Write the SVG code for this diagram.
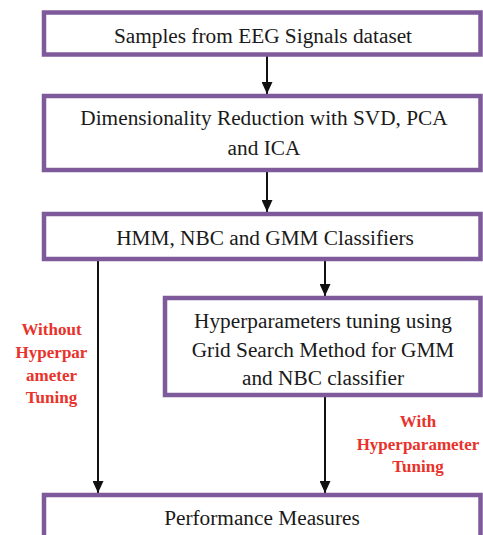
<svg xmlns="http://www.w3.org/2000/svg" width="483" height="535" viewBox="0 0 483 535">
<style>
.box{fill:#fff;stroke:#7E5A9B;stroke-width:4.5}
.t{font-family:"Liberation Serif","Times New Roman",serif;font-size:21.3px;fill:#1a1a1a;text-anchor:middle}
.r{font-family:"Liberation Serif","Times New Roman",serif;font-size:17px;font-weight:bold;fill:#E8322B;text-anchor:middle}
.c{stroke:#111;stroke-width:2;fill:none}
</style>
<defs>
<marker id="ah" markerWidth="12" markerHeight="11" refX="12" refY="5.5" orient="auto" markerUnits="userSpaceOnUse">
<path d="M0,0 L12,5.5 L0,11 Z" fill="#111"/>
</marker>
</defs>
<rect width="483" height="535" fill="#fff"/>
<g id="connectors">
<line class="c" x1="267" y1="55" x2="267" y2="94" marker-end="url(#ah)"/>
<line class="c" x1="267" y1="171" x2="267" y2="212" marker-end="url(#ah)"/>
<line class="c" x1="98" y1="261" x2="98" y2="493" marker-end="url(#ah)"/>
<line class="c" x1="325" y1="261" x2="325" y2="296" marker-end="url(#ah)"/>
<line class="c" x1="325" y1="397" x2="325" y2="493" marker-end="url(#ah)"/>
</g>
<g id="n1">
<rect class="box" x="44" y="12.5" width="436.5" height="42"/>
<text class="t" x="263" y="43">Samples from EEG Signals dataset</text>
</g>
<g id="n2">
<rect class="box" x="44" y="96" width="436.5" height="74"/>
<text class="t" x="264" y="125">Dimensionality Reduction with SVD, PCA</text>
<text class="t" x="264" y="155">and ICA</text>
</g>
<g id="n3">
<rect class="box" x="44" y="214" width="436.5" height="45"/>
<text class="t" x="265" y="245">HMM, NBC and GMM Classifiers</text>
</g>
<g id="n4">
<rect class="box" x="165" y="298" width="315.5" height="97"/>
<text class="t" x="323" y="328">Hyperparameters tuning using</text>
<text class="t" x="323" y="357">Grid Search Method for GMM</text>
<text class="t" x="323" y="385">and NBC classifier</text>
</g>
<g id="n5">
<rect class="box" x="44" y="495" width="436.5" height="60"/>
<text class="t" x="262" y="525">Performance Measures</text>
</g>
<g id="label-without">
<text class="r" x="51.5" y="335">Without</text>
<text class="r" x="51.5" y="358">Hyperpar</text>
<text class="r" x="51.5" y="381">ameter</text>
<text class="r" x="51.5" y="403">Tuning</text>
</g>
<g id="label-with">
<text class="r" x="418" y="427">With</text>
<text class="r" x="418" y="450">Hyperparameter</text>
<text class="r" x="418" y="472">Tuning</text>
</g>
</svg>
